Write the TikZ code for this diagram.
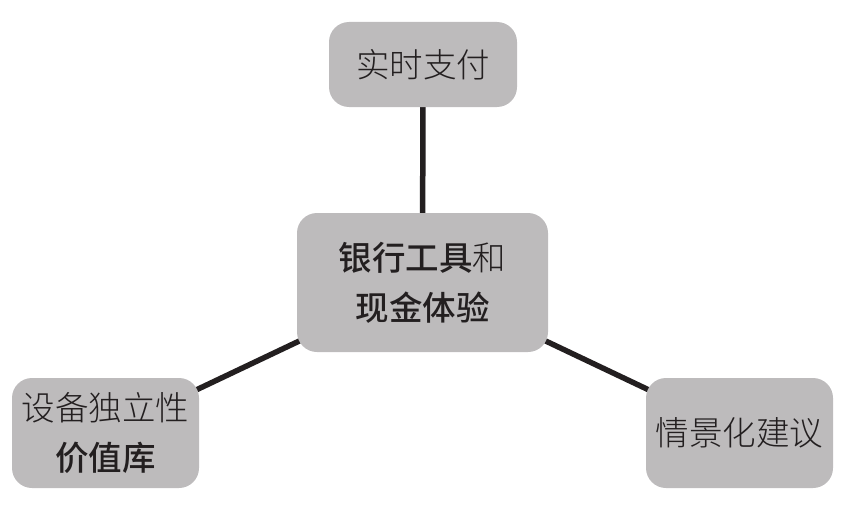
\documentclass[tikz,border=0pt]{standalone}
\usepackage{fontspec}
\usetikzlibrary{backgrounds}
\newfontfamily\cjkbold{Noto Sans CJK SC}[UprightFont=* Medium]
\newfontfamily\cjkthin{Noto Sans CJK SC}[UprightFont=* Light]
\definecolor{boxgrey}{HTML}{BDBBBC}
\definecolor{ink}{HTML}{231F20}
\tikzset{
  bubble/.style={fill=boxgrey, rounded corners=20pt, inner sep=0pt, align=center, text=ink, font=\fontsize{33.5}{50}\selectfont},
  link/.style={draw=ink, line width=5.5pt}
}
\begin{document}
\begin{tikzpicture}[x=1pt,y=-1pt]
\useasboundingbox (0,0) rectangle (843,511);
\node[bubble, minimum width=251pt, minimum height=139pt] (c) at (422.5,282.5) {{\cjkbold 银行工具}{\cjkthin 和}\\{\cjkbold 现金体验}};
\node[bubble, minimum width=188pt, minimum height=85pt] (t) at (423,64.5) {\cjkthin 实时支付};
\node[bubble, minimum width=187pt, minimum height=110pt] (l) at (105.5,433) {{\cjkthin 设备独立性}\\{\cjkbold 价值库}};
\node[bubble, minimum width=187pt, minimum height=110pt] (r) at (739.5,433) {\cjkthin 情景化建议};
\begin{scope}[on background layer]
\draw[link] (c.center) -- (t.center);
\draw[link] (c.center) -- (l.center);
\draw[link] (c.center) -- (r.center);
\end{scope}
\end{tikzpicture}
\end{document}
